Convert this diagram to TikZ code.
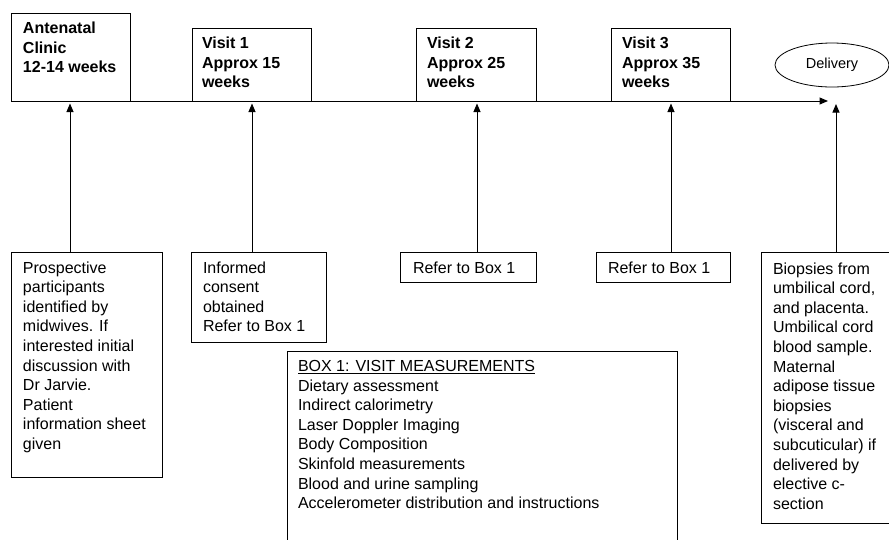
\documentclass[tikz,border=0pt]{standalone}
\usepackage{fontspec}
\setmainfont{Liberation Sans}
\usetikzlibrary{arrows.meta,shapes.geometric}
\newcommand\mylines[1]{\begin{tabular}[t]{@{}l@{}}#1\end{tabular}}
\begin{document}
\begin{tikzpicture}[x=1pt,y=-1pt,
  box/.style={draw, line width=1pt, inner sep=0pt, outer sep=0pt, anchor=north west, rectangle},
  txt/.style={anchor=base west, inner sep=0pt, outer sep=0pt, font=\fontsize{16}{19.6}\selectfont},
  btxt/.style={anchor=base west, inner sep=0pt, outer sep=0pt, font=\fontsize{16}{19.5}\selectfont\bfseries},
  arr/.style={line width=1pt, -{Triangle[length=8.5pt,width=7pt]}}]
\useasboundingbox (0,0) rectangle (889,539);
\clip (0,0) rectangle (889,539);
% top boxes
\node[box, minimum width=119pt, minimum height=88pt] (ant) at (11,13) {};
\node[box, minimum width=119pt, minimum height=73pt] (v1) at (192,28) {};
\node[box, minimum width=120pt, minimum height=73pt] (v2) at (416,28) {};
\node[box, minimum width=119pt, minimum height=73pt] (v3) at (611,28) {};
\node[draw, ellipse, line width=0.8pt, minimum width=114pt, minimum height=44pt, inner sep=0pt, font=\fontsize{14.5}{17}\selectfont] (del) at (832,65) {Delivery};
\node[btxt] (tant) at (23,33.5) {\mylines{Antenatal\\Clinic\\12-14 weeks}};
\node[btxt] (tv1) at (202,48.5) {\mylines{Visit 1\\Approx 15\\weeks}};
\node[btxt] (tv2) at (427,48.5) {\mylines{Visit 2\\Approx 25\\weeks}};
\node[btxt] (tv3) at (622,48.5) {\mylines{Visit 3\\Approx 35\\weeks}};
% timeline
\coordinate (tlend) at (828,101);
\draw[arr] (ant.south west) -- (tlend);
% bottom boxes
\node[box, minimum width=151pt, minimum height=225pt] (pros) at (11,252) {};
\node[box, minimum width=135pt, minimum height=90pt] (inf) at (191,252) {};
\node[box, minimum width=136pt, minimum height=30pt] (ref2) at (400,252) {};
\node[box, minimum width=134pt, minimum height=30pt] (ref3) at (596,252) {};
\node[box, minimum width=140pt, minimum height=271pt] (bio) at (761,252) {};
\node[box, minimum width=390pt, minimum height=200pt] (box1) at (287,351) {};
\node[txt] (tpros) at (23,273) {\mylines{Prospective\\participants\\identified by\\midwives. If\\interested initial\\discussion with\\Dr Jarvie.\\Patient\\information sheet\\given}};
\node[txt] (tinf) at (203,273) {\mylines{Informed\\consent\\obtained\\Refer to Box 1}};
\node[txt] (tref2) at (413,273.5) {Refer to Box 1};
\node[txt] (tref3) at (608,273.5) {Refer to Box 1};
\node[txt] (tbio) at (773,274) {\mylines{Biopsies from\\umbilical cord,\\and placenta.\\Umbilical cord\\blood sample.\\Maternal\\adipose tissue\\biopsies\\(visceral and\\subcuticular) if\\delivered by\\elective c-\\section}};
\node[txt] (tbox1) at (298,371.5) {\mylines{\underline{BOX 1: VISIT MEASUREMENTS}\\Dietary assessment\\Indirect calorimetry\\Laser Doppler Imaging\\Body Composition\\Skinfold measurements\\Blood and urine sampling\\Accelerometer distribution and instructions}};
% vertical arrows
\coordinate (t1) at (70,103.5);
\coordinate (t2) at (252,103.5);
\coordinate (t3) at (477,103.5);
\coordinate (t4) at (671,103.5);
\coordinate (t5) at (836,104);
\draw[arr] (t1 |- pros.north) -- (t1);
\draw[arr] (t2 |- inf.north) -- (t2);
\draw[arr] (t3 |- ref2.north) -- (t3);
\draw[arr] (t4 |- ref3.north) -- (t4);
\draw[arr] (t5 |- bio.north) -- (t5);
\end{tikzpicture}
\end{document}
